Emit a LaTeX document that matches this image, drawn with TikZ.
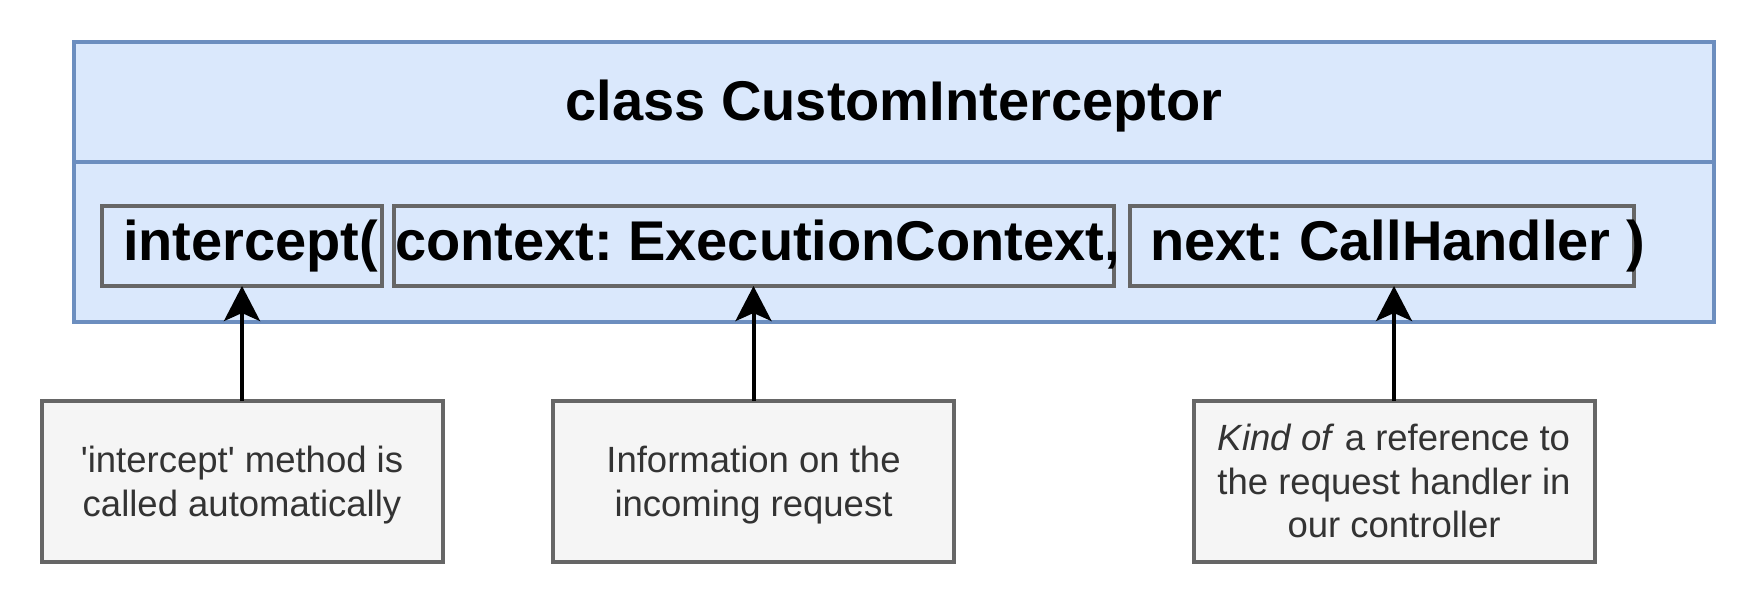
\documentclass[tikz,border=0pt]{standalone}
\usepackage{fontspec}
\setmainfont{Liberation Sans}
\usetikzlibrary{arrows.meta}
\definecolor{bluefill}{HTML}{DAE8FC}
\definecolor{blueline}{HTML}{6C8EBF}
\definecolor{greyline}{HTML}{666666}
\definecolor{notefill}{HTML}{F5F5F5}
\definecolor{notetext}{HTML}{333333}
\newcommand\nstrut{\rule[-9.3pt]{0pt}{43.8pt}}
\frenchspacing
\begin{document}
\begin{tikzpicture}[x=1pt,y=-1pt,
  classbox/.style={draw=blueline,fill=bluefill,line width=4pt,inner sep=0pt,outer sep=0pt},
  partbox/.style={draw=greyline,line width=4pt,inner sep=0pt,outer sep=0pt,minimum height=80pt},
  notebox/.style={draw=greyline,fill=notefill,line width=4pt,inner sep=0pt,outer sep=0pt,minimum width=401pt,minimum height=161pt,align=center,text=notetext,font=\fontsize{36.5}{43.8}\selectfont},
  bigtext/.style={inner sep=0pt,outer sep=0pt,font=\fontsize{56}{67}\selectfont\bfseries},
  pointer/.style={line width=4pt,-{Stealth[length=35pt,width=36pt,inset=8pt]}}]
\useasboundingbox (0,0) rectangle (1756,589);
% class box
\node[classbox,minimum width=1640pt,minimum height=120pt] (head) at (894,102) {};
\node[classbox,minimum width=1640pt,minimum height=160pt] (body) at (894,242) {};
\node[bigtext,anchor=base] (title) at (894,120.5) {class CustomInterceptor};
% parameter boxes
\node[partbox,minimum width=280pt] (m1) at (242,246) {};
\node[partbox,minimum width=720pt] (m2) at (754,246) {};
\node[partbox,minimum width=504pt] (m3) at (1382,246) {};
\node[bigtext,anchor=base west] (t1) at (123,260.5) {intercept(};
\node[bigtext,anchor=base west] (t2) at (395,260.5) {context: ExecutionContext,};
\node[bigtext,anchor=base west] (t3) at (1150,260.5) {next: CallHandler )};
% notes
\node[notebox] (n1) at (242,481.5) {\nstrut\textquotesingle intercept\textquotesingle{} method is\\\nstrut called automatically};
\node[notebox] (n2) at (753.5,481.5) {\nstrut Information on the\\\nstrut incoming request};
\node[notebox] (n3) at (1394,481.5) {\nstrut\textit{Kind of} a reference to\\\nstrut the request handler in\\\nstrut our controller};
% arrows
\draw[pointer] (n1.north) -- (m1.south);
\draw[pointer] (n2.north) -- (n2.north |- m2.south);
\draw[pointer] (n3.north) -- (n3.north |- m3.south);
\end{tikzpicture}
\end{document}
